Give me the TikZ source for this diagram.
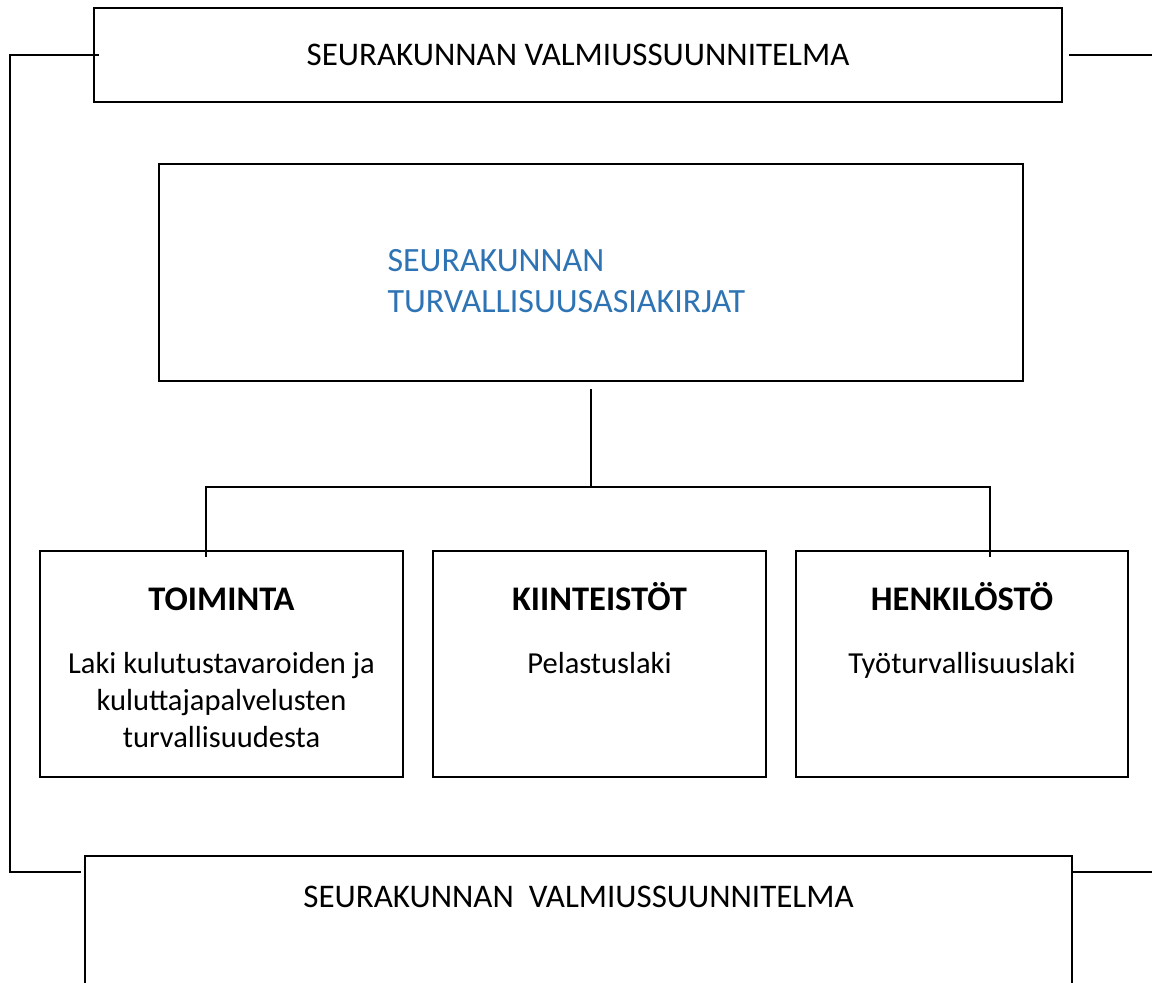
\documentclass[tikz,border=0pt]{standalone}
\usepackage{fontspec}
\setmainfont{Carlito}
\usepackage{xcolor}
\usetikzlibrary{positioning,calc}
\definecolor{docblue}{RGB}{46,116,181}

\tikzset{
    frame/.style={draw, line width=2pt, rectangle, inner sep=0pt},
    link/.style={line width=2pt},
    areabox/.style={frame, anchor=north, minimum height=226pt},
    areatitle/.style={anchor=base, inner sep=0pt, font=\fontsize{34.5}{37}\selectfont\bfseries},
    areatext/.style={anchor=base, align=center, inner sep=0pt, font=\fontsize{30.5}{37}\selectfont}
}

\begin{document}
\begin{tikzpicture}[x=1pt, y=-1pt]
    \useasboundingbox (0,0) rectangle (1152,983);

    % Valmiussuunnitelma (top and bottom)
    \node (plantop) [frame, minimum width=968pt, minimum height=94pt, font=\fontsize{33}{37}\selectfont]
        at (578,55) {SEURAKUNNAN VALMIUSSUUNNITELMA};
    \node (planbot) [frame, anchor=north, minimum width=987pt, minimum height=200pt] at (578.5,855) {};
    \node (planbottext) [font=\fontsize{33}{37}\selectfont, below=28pt of planbot.north]
        {SEURAKUNNAN\ \ VALMIUSSUUNNITELMA};

    % Turvallisuusasiakirjat
    \node (safety) [frame, minimum width=864pt, minimum height=217pt] at (591,272.5) {};
    \node (safetytext) [anchor=west, align=left, text=docblue, font=\fontsize{34}{41}\selectfont]
        at (384,281) {SEURAKUNNAN\\TURVALLISUUSASIAKIRJAT};

    % Areas
    \node (toiminta) [areabox, minimum width=363pt] at (221.5,550) {};
    \node (kiinteistot) [areabox, minimum width=333pt] at (599.5,550) {};
    \node (henkilosto) [areabox, minimum width=332pt] at (962,550) {};

    \node (toimintatitle) [areatitle] at ($(toiminta.north)+(0,60)$) {TOIMINTA};
    \node (kiinteistottitle) [areatitle] at ($(kiinteistot.north)+(0,60)$) {KIINTEISTÖT};
    \node (henkilostotitle) [areatitle] at ($(henkilosto.north)+(0,60)$) {HENKILÖSTÖ};

    % (base of a multi-line node = its last line)
    \node (toimintatext) [areatext] at ($(toiminta.north)+(0,197)$)
        {Laki kulutustavaroiden ja\\kuluttajapalvelusten\\turvallisuudesta};
    \node (kiinteistottext) [areatext] at ($(kiinteistot.north)+(0,123)$) {Pelastuslaki};
    \node (henkilostotext) [areatext] at ($(henkilosto.north)+(0,123)$) {Työturvallisuuslaki};

    % Tree connectors
    \coordinate (forkL) at (206,487);
    \coordinate (forkR) at (990,487);
    \draw [link] ($(safety.south)+(0,7)$) -- (safety.south |- forkL);
    \draw [link] ($(toiminta.north -| forkL)+(0,7)$) -- (forkL) -- (forkR)
        -- ($(henkilosto.north -| forkR)+(0,7)$);

    % Side rails
    \coordinate (railL) at (10,872);
    \coordinate (railRtop) at (1152,55);
    \coordinate (railRbot) at (1152,872);
    \draw [link] ($(plantop.west)+(6,0)$) -| (railL) -- ($(railL -| planbot.west)+(-3,0)$);
    \draw [link] ($(plantop.east)+(6,0)$) -- (railRtop);
    \draw [link] ($(planbot.north east)+(0,17)$) -- (railRbot);
\end{tikzpicture}
\end{document}
